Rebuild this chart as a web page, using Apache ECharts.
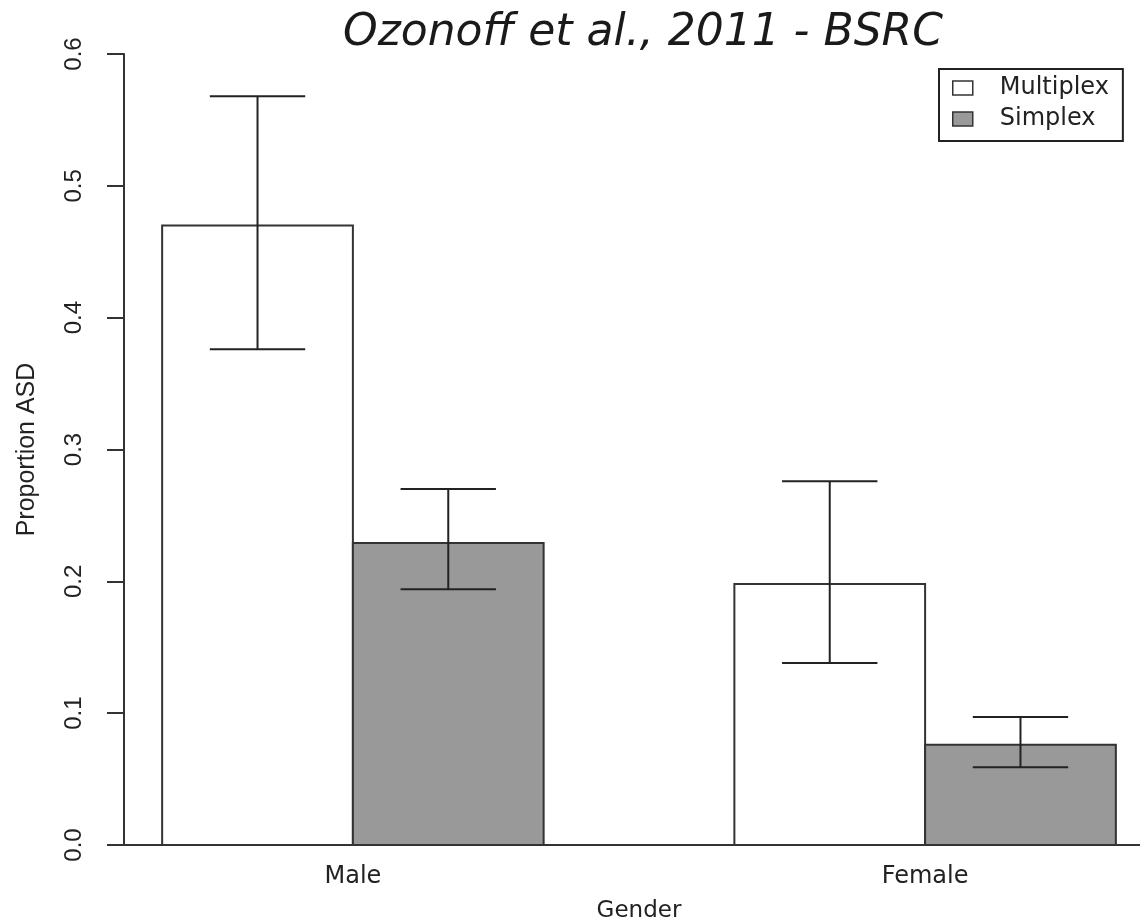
<!DOCTYPE html>
<html>
<head>
<meta charset="utf-8">
<title>Proportion ASD by gender</title>
<script src="https://cdn.jsdelivr.net/npm/echarts@6/dist/echarts.min.js"></script>
<style>
  html, body { margin: 0; padding: 0; background: #fff; }
  #container { width: 1140px; height: 921px; }
</style>
</head>
<body>
<div id="container"></div>
<script>
// data
var genders = ['Male', 'Female'];
var seriesNames = ['Multiplex', 'Simplex'];
var multiplex = [0.470, 0.198];
var multiplexLow = [0.376, 0.138];
var multiplexHigh = [0.568, 0.276];
var simplex = [0.229, 0.076];
var simplexLow = [0.194, 0.059];
var simplexHigh = [0.270, 0.097];
var yTicks = [0, 0.1, 0.2, 0.3, 0.4, 0.5, 0.6];

var fills = ['#ffffff', '#999999'];
var edge = '#333333';

// barplot(beside=TRUE) layout: bar j of group i spans [1+3i+j, 2+3i+j]
function barCenter(i, j) { return 1.5 + 3 * i + j; }
function groupCenter(i) { return 2 + 3 * i; }

function rows(vals, lows, highs, j) {
    return genders.map(function (g, i) {
        return [barCenter(i, j), vals[i], lows[i], highs[i]];
    });
}

//柱子 + 误差线
function renderBar(params, api) {
    var xc = api.value(0), v = api.value(1), lo = api.value(2), hi = api.value(3);
    var tl = api.coord([xc - 0.5, v]);
    var br = api.coord([xc + 0.5, 0]);
    var top = api.coord([xc, hi]);
    var bot = api.coord([xc, lo]);
    var capL = api.coord([xc - 0.25, hi])[0];
    var capR = api.coord([xc + 0.25, hi])[0];
    var line = { stroke: '#222', lineWidth: 2 };
    return {
        type: 'group',
        children: [
            { type: 'rect', shape: { x: tl[0], y: tl[1], width: br[0] - tl[0], height: br[1] - tl[1] },
              style: { fill: fills[params.seriesIndex], stroke: edge, lineWidth: 2 } },
            { type: 'line', shape: { x1: top[0], y1: top[1], x2: bot[0], y2: bot[1] }, style: line },
            { type: 'line', shape: { x1: capL, y1: top[1], x2: capR, y2: top[1] }, style: line },
            { type: 'line', shape: { x1: capL, y1: bot[1], x2: capR, y2: bot[1] }, style: line }
        ]
    };
}

var dom = document.getElementById('container');
var myChart = echarts.init(dom);
var option = {
    animation: false,
    backgroundColor: '#fff',
    title: {
        text: 'Ozonoff et al., 2011 - BSRC',
        left: 338,
        top: 7,
        textStyle: { fontFamily: 'DejaVu Sans', fontStyle: 'italic', fontWeight: 200, fontSize: 44, color: '#1a1a1a' }
    },
    legend: {
        orient: 'vertical',
        left: 939,
        top: 69,
        padding: [6, 14, 9, 13],
        borderColor: '#222',
        borderWidth: 2,
        backgroundColor: '#fff',
        itemWidth: 20,
        itemHeight: 14,
        itemGap: 5,
        textStyle: { fontFamily: 'DejaVu Sans', fontSize: 24, color: '#222', lineHeight: 26, padding: [0, 0, 0, 22] },
        data: [
            { name: seriesNames[0], icon: 'rect', itemStyle: { color: fills[0], borderColor: edge, borderWidth: 1.5 } },
            { name: seriesNames[1], icon: 'rect', itemStyle: { color: fills[1], borderColor: edge, borderWidth: 1.5 } }
        ]
    },
    grid: { left: 124, top: 54, width: 1030, height: 791, containLabel: false, outerBoundsMode: 'none' },
    xAxis: {
        type: 'value',
        min: 0.8,
        max: 6.2,
        name: 'Gender',
        nameLocation: 'middle',
        nameGap: 55,
        nameTextStyle: { fontFamily: 'DejaVu Sans', fontSize: 23, color: '#222' },
        axisLine: { show: true, lineStyle: { color: '#333', width: 2 } },
        axisTick: { show: false },
        splitLine: { show: false },
        axisLabel: {
            customValues: genders.map(function (g, i) { return groupCenter(i); }),
            formatter: function (v) { return genders[Math.round((v - 2) / 3)]; },
            fontFamily: 'DejaVu Sans',
            fontSize: 24,
            color: '#222',
            margin: 20
        }
    },
    yAxis: {
        type: 'value',
        min: yTicks[0],
        max: yTicks[yTicks.length - 1],
        interval: 0.1,
        name: 'Proportion ASD',
        nameLocation: 'middle',
        nameRotate: 90,
        nameGap: 84,
        nameTextStyle: { fontFamily: 'Liberation Sans', fontSize: 25, color: '#222' },
        axisLine: { show: true, lineStyle: { color: '#333', width: 2 } },
        axisTick: { show: true, length: 17, lineStyle: { color: '#333', width: 2 } },
        splitLine: { show: false },
        axisLabel: {
            rotate: 90,
            margin: 38,
            fontFamily: 'Liberation Sans',
            fontSize: 24,
            color: '#222',
            formatter: function (v) { return v.toFixed(1); }
        }
    },
    series: [{
        name: seriesNames[0],
        type: 'custom',
        itemStyle: { color: fills[0] },
        encode: { x: 0, y: 1 },
        renderItem: renderBar,
        data: rows(multiplex, multiplexLow, multiplexHigh, 0)
    }, {
        name: seriesNames[1],
        type: 'custom',
        itemStyle: { color: fills[1] },
        encode: { x: 0, y: 1 },
        renderItem: renderBar,
        data: rows(simplex, simplexLow, simplexHigh, 1)
    }]
};
if (option && typeof option === 'object') {
    myChart.setOption(option, true);
}
</script>
</body>
</html>
